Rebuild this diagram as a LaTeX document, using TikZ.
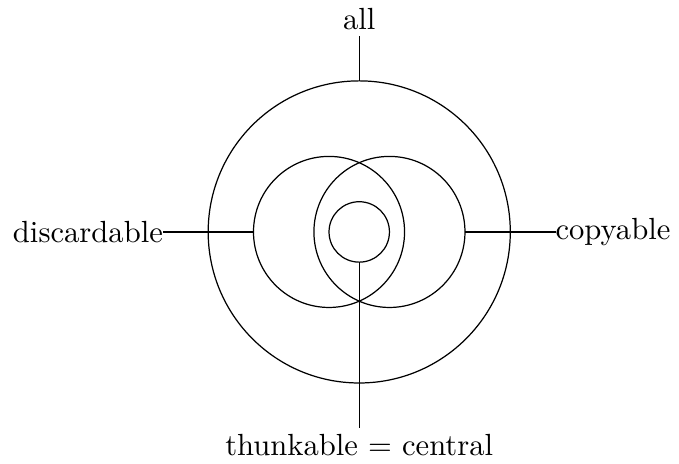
\documentclass[tikz,border=0pt]{standalone}
\usetikzlibrary{positioning}

\begin{document}
\begin{tikzpicture}[
    x=0.347cm, y=0.347cm,
    ring/.style={circle, draw, thin, inner sep=0pt, outer sep=0pt},
    lbl/.style={inner xsep=0pt, inner ysep=1.8pt, outer sep=0pt}
]
    \useasboundingbox (-117.4pt,-75.8pt) rectangle (104.5pt,75.8pt);

    % the four sets
    \node[ring, minimum size=3.47cm] (allset) at (0,0) {};
    \node[ring, minimum size=1.735cm] (discset) at (-1,0) {};
    \node[ring, minimum size=1.735cm] (copyset) at (1,0) {};
    \node[ring, minimum size=0.694cm] (thunkset) at (0,0) {};

    % their names
    \node[lbl, above=0.5205cm of allset] (alllbl) {all};
    \node[lbl, left=1.041cm of discset] (disclbl) {discardable};
    \node[lbl, right=1.041cm of copyset] (copylbl) {copyable};
    \node[lbl, below=1.9085cm of thunkset] (thunklbl) {thunkable = central};

    \draw[thin] (allset.north) -- (alllbl.south);
    \draw[thin] (discset.west) -- (disclbl.east);
    \draw[thin] (copyset.east) -- (copylbl.west);
    \draw[thin] (thunkset.south) -- (thunklbl.north);
\end{tikzpicture}
\end{document}
